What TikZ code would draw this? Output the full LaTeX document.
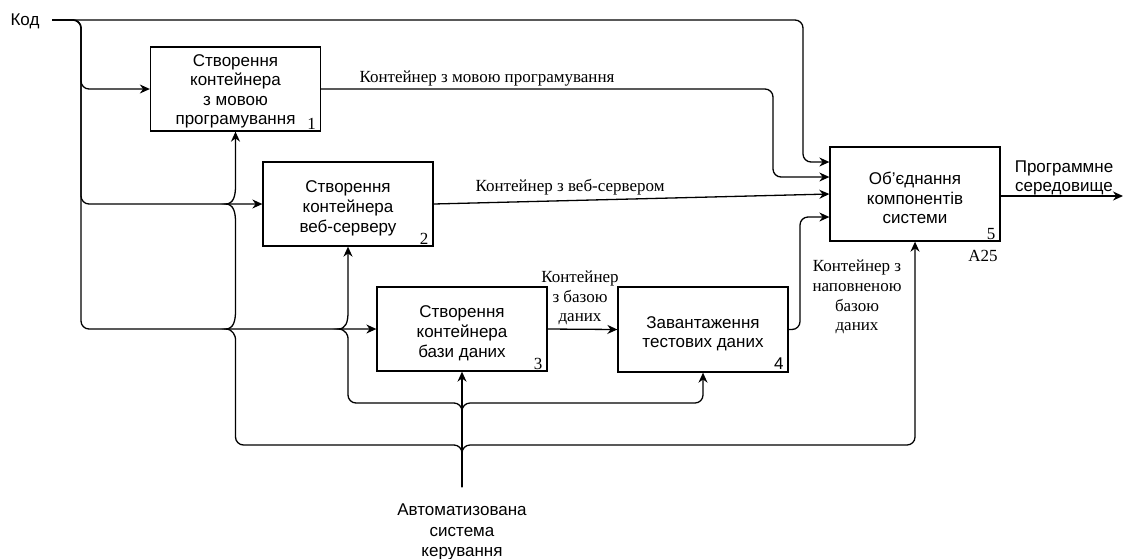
\documentclass[tikz,border=0pt]{standalone}
\usepackage{fontspec}
\setmainfont{Liberation Serif}
\setsansfont{Liberation Sans}
\usetikzlibrary{arrows.meta}
\newcommand{\topgap}{\rule{0pt}{20.5pt}}
\newcommand{\smallgap}{\rule{0pt}{16.5pt}}
\tikzset{
  box/.style={draw, line width=1.3pt, minimum width=170pt, minimum height=84pt, inner sep=0pt, align=center, font=\sffamily\fontsize{17}{19.8}\selectfont},
  lbl/.style={font=\rmfamily\fontsize{17}{19.8}\selectfont, align=center, inner sep=0pt},
  slbl/.style={font=\sffamily\fontsize{17}{20}\selectfont, align=center, inner sep=0pt},
  num/.style={font=\rmfamily\fontsize{17}{19}\selectfont, inner sep=0pt},
  flow/.style={line width=1.3pt, rounded corners=8pt, -{Stealth[length=10pt,width=9pt]}},
}
\begin{document}
\begin{tikzpicture}[x=1pt,y=-1pt]
\useasboundingbox (0,0) rectangle (1123,558);
% boxes
\node[box, font=\sffamily\fontsize{17}{19.2}\selectfont] (b1) at (235.5,89) {\smallgap Створення\\контейнера\\з мовою\\програмування};
\node[box] (b2) at (348,204) {\topgap Створення\\контейнера\\веб-серверу};
\node[box] (b3) at (462,329) {\topgap Створення\\контейнера\\бази даних};
\node[box, minimum height=85pt] (b4) at (703,329.5) {\topgap Завантаження\\тестових даних};
\node[box, minimum height=94pt] (b5) at (915,194) {\topgap Об'єднання\\компонентів\\системи};
% numbers
\node[num, anchor=south east] (n1) at ([shift={(-5,-2)}]b1.south east) {1};
\node[num, anchor=south east] (n2) at ([shift={(-5,-2)}]b2.south east) {2};
\node[num, anchor=south east] (n3) at ([shift={(-5,-2)}]b3.south east) {3};
\node[slbl, anchor=south east] (n4) at ([shift={(-5,-3)}]b4.south east) {4};
\node[num, anchor=south east] (n5) at ([shift={(-5,-2)}]b5.south east) {5};
\node[num] (a25) at (983,256) {A25};
% outer labels
\node[slbl] (kod) at (25,21) {Код};
\coordinate (k0) at (52,20);
\node[slbl, font=\sffamily\fontsize{17}{20.5}\selectfont] (ctl) at (462,532) {Автоматизована\\система\\керування};
\coordinate (c0) at (462,487);
\coordinate (out) at (1123,196);
\node[slbl, font=\sffamily\fontsize{17}{19}\selectfont] (lout) at (1064,178) {Программне\\середовище};
\node[lbl] (l1) at (487,79) {Контейнер з мовою програмування};
\node[lbl] (l2) at (570,187) {Контейнер з веб-сервером};
\node[lbl] (l3) at (580,298) {Контейнер\\з базою\\даних};
\node[lbl] (l4) at (857,297) {Контейнер з\\наповненою\\базою\\даних};
% inputs from Kod
\draw[flow] (k0) -- (803,20) -- (803,162) -- (b5.west |- 0,162);
\draw[flow] (k0) -- (81,20) -- (81,89) -- (b1.west);
\draw[flow] (k0) -- (81,20) -- (81,204) -- (b2.west);
\draw[flow] (k0) -- (81,20) -- (81,329) -- (b3.west);
% flows between boxes
\draw[flow] (b1.east) -- (773,89) -- (773,177) -- (b5.west |- 0,177);
\draw[flow] (b2.east) -- (b5.west |- 0,194);
\draw[flow] (b3.east) -- (b4.west);
\draw[flow] (b4.east) -- (800,329.5) -- (800,217) -- (b5.west |- 0,217);
\draw[flow] (b5.east |- 0,196) -- (out);
% controls
\draw[flow] (c0) -- (b3.south);
\draw[flow] (c0) -- (462,403) -- (703,403) -- (b4.south);
\draw[flow] (c0) -- (462,445) -- (915,445) -- (b5.south);
\draw[flow] (c0) -- (462,403) -- (348,403) -- (348,346)
  [sharp corners] .. controls (348,336) and (346,329) .. (338,329)
  .. controls (346,329) and (348,322) .. (348,312) -- (b2.south);
\draw[flow] (c0) -- (462,445) -- (235.5,445) -- (235.5,347)
  [sharp corners] .. controls (235.5,337) and (233.5,329) .. (225.5,329)
  .. controls (233.5,329) and (235.5,321) .. (235.5,311)
  -- (235.5,222) .. controls (235.5,212) and (233.5,204) .. (225.5,204)
  .. controls (233.5,204) and (235.5,196) .. (235.5,186) -- (b1.south);
\end{tikzpicture}
\end{document}
